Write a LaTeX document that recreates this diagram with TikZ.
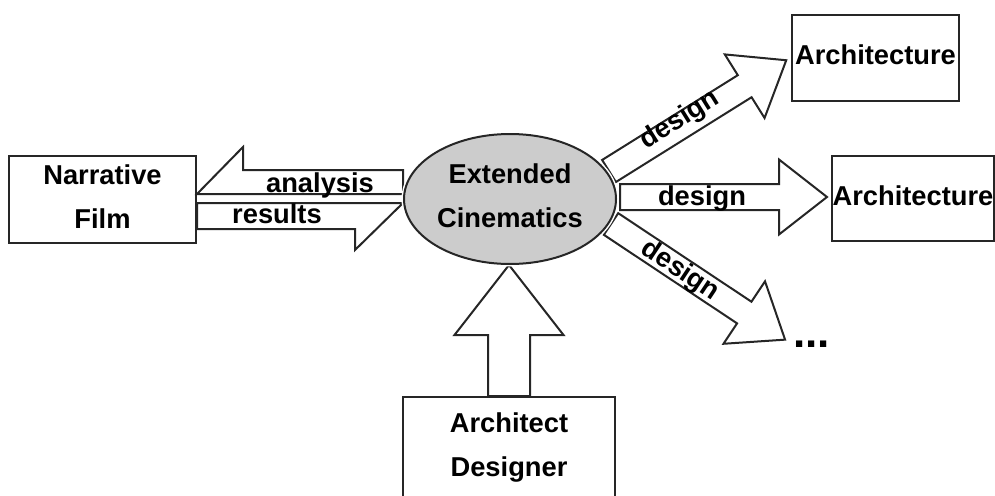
\documentclass[tikz,border=0pt]{standalone}
\usepackage{fontspec}
\setmainfont{Liberation Sans}
\usetikzlibrary{shapes.geometric}
\definecolor{linec}{RGB}{38,38,38}
\definecolor{ellfill}{RGB}{204,204,204}
\newcommand\lblfont{\fontsize{27.3}{44}\selectfont\bfseries}
% tail coordinate, angle, length, half shaft, half head, head length
\newcommand\blockarrow[6]{%
  \begin{scope}[shift={(#1)},rotate=#2]
    \draw[blockarr] (0,-#4) -- ({#3-#6},-#4) -- ({#3-#6},-#5) -- (#3,0)
      -- ({#3-#6},#5) -- ({#3-#6},#4) -- (0,#4) -- cycle;
  \end{scope}}
\tikzset{
  boxnode/.style={draw=linec, line width=2pt, fill=white, inner sep=0pt,
    align=center, font=\lblfont, text depth=6pt},
  blockarr/.style={draw=linec, line width=2pt, fill=white, line join=miter},
  lbl/.style={font=\lblfont, inner sep=0pt}
}
\begin{document}
\begin{tikzpicture}[x=1pt,y=-1pt]
\useasboundingbox (0,0) rectangle (995,495);
\clip (0,0) rectangle (995,495);

% boxes
\node[boxnode, minimum width=187pt, minimum height=87pt] (nf) at (102.5,199.5) {Narrative\\Film};
\node[boxnode, minimum width=167pt, minimum height=86pt] (a1) at (875.5,58) {Architecture};
\node[boxnode, minimum width=162pt, minimum height=85pt] (a2) at (913,198.5) {Architecture};
\node[boxnode, minimum width=212pt, minimum height=102pt] (ad) at (509,448) {Architect\\Designer};

% tails of block arrows
\coordinate (tu) at (609,171);
\coordinate (tm) at (620,197);
\coordinate (tl) at (611,224);
\coordinate (tb) at (ad.north);

% half arrows between film and ellipse
\draw[blockarr] (403,194) -- (nf.east |- 0,194) -- (243,147) -- (243,170) -- (403,170) -- cycle;
\draw[blockarr] (nf.east |- 0,203) -- (403,203) -- (355,250) -- (355,229) -- (nf.east |- 0,229) -- cycle;
\node[lbl, anchor=base] (lan) at (320,192) {analysis};
\node[lbl, anchor=base] (lre) at (277,223) {results};

% design arrows
\blockarrow{tu}{32}{209}{13}{37.5}{49}
\blockarrow{tm}{0}{207}{13}{37.5}{48}
\blockarrow{tl}{-33.6}{209}{13}{37.5}{49}
\blockarrow{tb}{90}{131}{21}{54.5}{70}
\node[lbl, rotate=32] (ld1) at (680,120) {design};
\node[lbl] (ld2) at (702,198) {design};
\node[lbl, rotate=-33.6] (ld3) at (680,271) {design};

% ellipse
\node[ellipse, draw=linec, line width=2pt, fill=ellfill, minimum width=212pt,
      minimum height=130pt, inner sep=0pt, align=center, font=\lblfont, text depth=6pt,
      preaction={draw=white, line width=5pt}]
      (ec) at (510,199) {Extended\\Cinematics};

% dots
\node[font=\fontsize{44}{44}\selectfont\bfseries, inner sep=0pt, anchor=base west] (dots) at (793,347) {...};
\end{tikzpicture}
\end{document}
